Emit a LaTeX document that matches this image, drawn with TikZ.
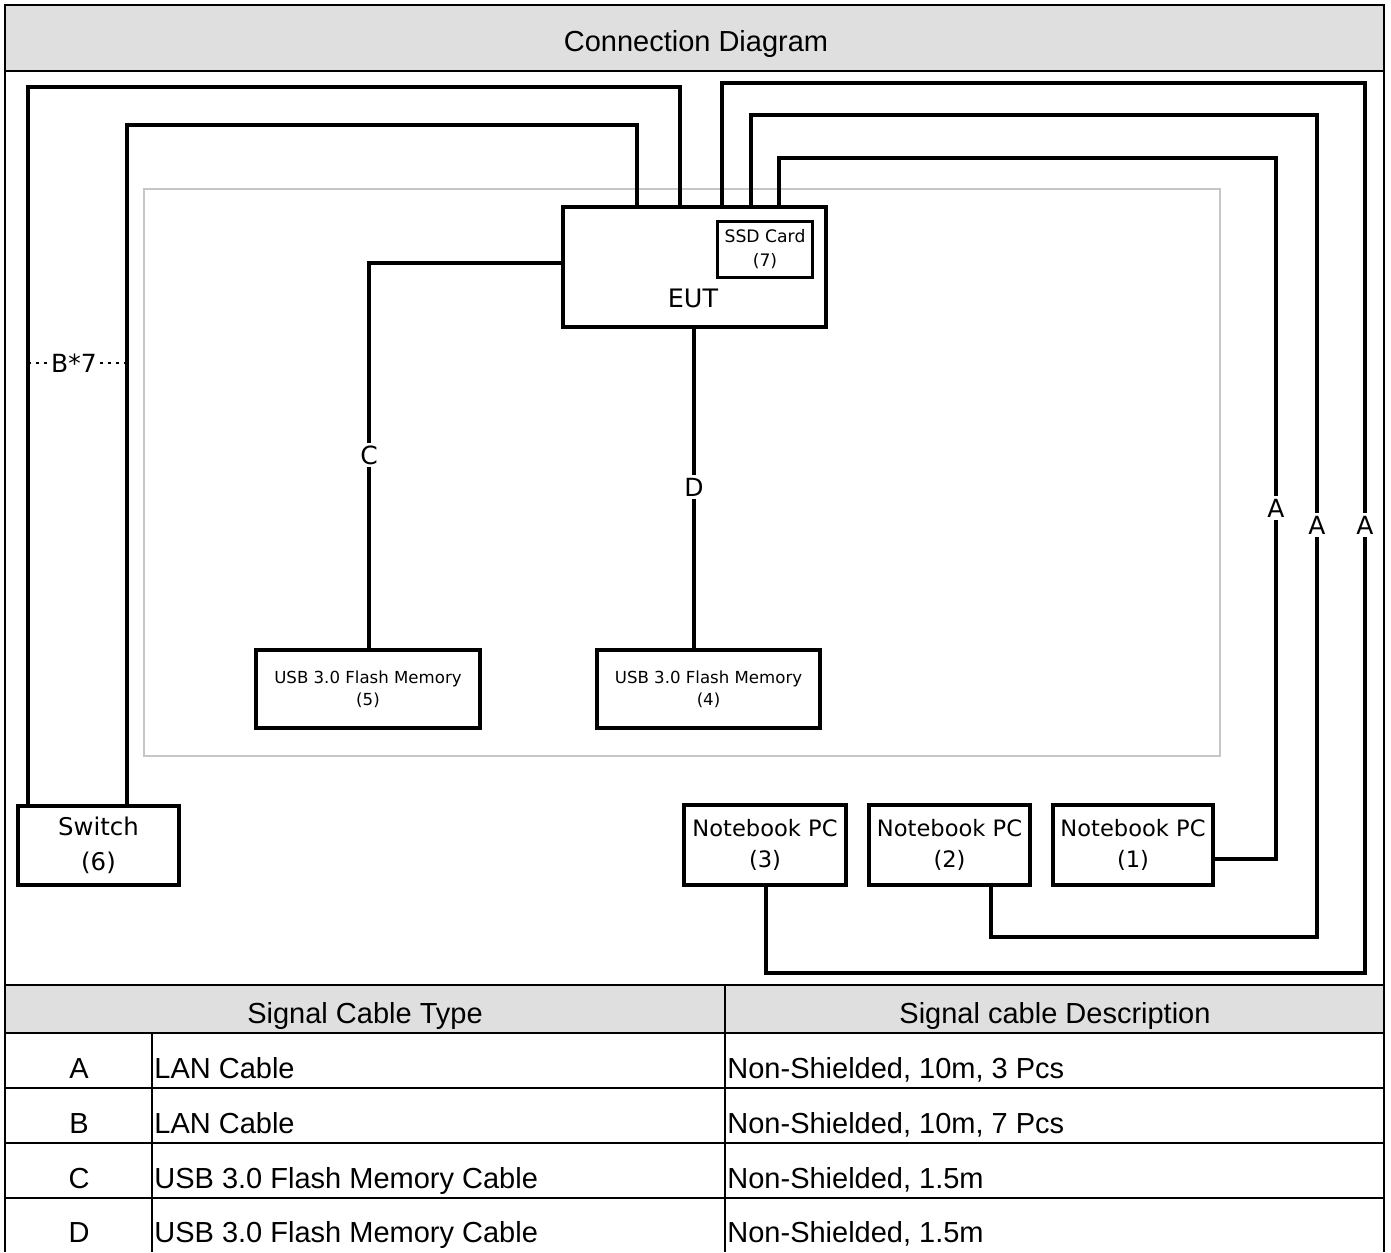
\documentclass[tikz,border=0pt]{standalone}
\usepackage{fontspec}
\setmainfont{Liberation Sans}
\newfontfamily\dejavu{DejaVu Sans}
\begin{document}
\begin{tikzpicture}[x=0.5pt,y=-0.5pt,
  frameline/.style={line width=1.35pt},
  cable/.style={line width=1.6pt},
  devbox/.style={draw,line width=1.6pt,inner sep=0pt,align=center},
  cablelbl/.style={fill=white,inner sep=1.5pt,font=\dejavu\fontsize{12.5}{15}\selectfont},
  tabtext/.style={font=\fontsize{14.5}{17}\selectfont,inner sep=0pt,anchor=base},
  tableft/.style={tabtext,anchor=base west}]
\useasboundingbox (0,0) rectangle (1391,1252);
% ---------- frame and table ----------
\fill[gray!25] (5,5) rectangle (1384,71);
\fill[gray!25] (5,985) rectangle (1384,1033);
\draw[frameline] (5,1252) -- (5,5) -- (1384,5) -- (1384,1252);
\draw[frameline] (5,71) -- (1384,71);
\draw[frameline] (5,985) -- (1384,985);
\foreach \yy in {1033,1088,1143,1198} \draw[frameline] (5,\yy) -- (1384,\yy);
\draw[frameline] (725,985) -- (725,1252);
\draw[frameline] (152,1033) -- (152,1252);
\node[tabtext] (title) at (696,52) {Connection Diagram};
\node[tabtext] (h1) at (365,1023) {Signal Cable Type};
\node[tabtext] (h2) at (1055,1023) {Signal cable Description};
\node[tabtext] (ra) at (79,1078) {A};
\node[tabtext] (rb) at (79,1133) {B};
\node[tabtext] (rc) at (79,1188) {C};
\node[tabtext] (rd) at (79,1242) {D};
\node[tableft] (ta) at (154,1078) {LAN Cable};
\node[tableft] (tb) at (154,1133) {LAN Cable};
\node[tableft] (tc) at (154,1188) {USB 3.0 Flash Memory Cable};
\node[tableft] (td) at (154,1242) {USB 3.0 Flash Memory Cable};
\node[tableft] (da) at (727,1078) {Non-Shielded, 10m, 3 Pcs};
\node[tableft] (db) at (727,1133) {Non-Shielded, 10m, 7 Pcs};
\node[tableft] (dc) at (727,1188) {Non-Shielded, 1.5m};
\node[tableft] (dd) at (727,1242) {Non-Shielded, 1.5m};
% ---------- test area ----------
\draw[gray!45,line width=0.6pt] (144,189) rectangle (1220,756);
% ---------- devices ----------
\node[devbox,minimum width=131.5pt,minimum height=60pt] (eut) at (694.5,267) {};
\node[font=\dejavu\fontsize{12.7}{15}\selectfont,inner sep=0pt] (eutlbl) at (693,298) {EUT};
\node[devbox,minimum width=47.5pt,minimum height=28pt,font=\dejavu\fontsize{8.6}{12}\selectfont] (ssd) at (765,249.5) {SSD Card\\(7)};
\node[devbox,minimum width=80.5pt,minimum height=39.5pt,font=\dejavu\fontsize{12.2}{17.5}\selectfont] (sw) at (98.5,845.5) {Switch\\(6)};
\node[devbox,minimum width=112pt,minimum height=39pt,font=\dejavu\fontsize{8.3}{11}\selectfont] (usb5) at (368,689) {USB 3.0 Flash Memory\\(5)};
\node[devbox,minimum width=111.5pt,minimum height=39pt,font=\dejavu\fontsize{8.3}{11}\selectfont] (usb4) at (708.5,689) {USB 3.0 Flash Memory\\(4)};
\node[devbox,minimum width=81pt,minimum height=40pt,font=\dejavu\fontsize{11.3}{15.5}\selectfont] (nb3) at (765,845) {Notebook PC\\(3)};
\node[devbox,minimum width=80.5pt,minimum height=40pt,font=\dejavu\fontsize{11.3}{15.5}\selectfont] (nb2) at (949.5,845) {Notebook PC\\(2)};
\node[devbox,minimum width=80pt,minimum height=40pt,font=\dejavu\fontsize{11.3}{15.5}\selectfont] (nb1) at (1133,845) {Notebook PC\\(1)};
% ---------- cables ----------
\draw[cable] (eut.north -| 680,0) -- (680,87) -- (28,87) -- (sw.north -| 28,0);
\draw[cable] (eut.north -| 637,0) -- (637,125) -- (127,125) -- (sw.north -| 127,0);
\draw[cable] (eut.north -| 722,0) -- (722,83) -- (1365,83) -- (1365,973) -- (766,973) -- (nb3.south -| 766,0);
\draw[cable] (eut.north -| 751,0) -- (751,115) -- (1317,115) -- (1317,937) -- (991,937) -- (nb2.south -| 991,0);
\draw[cable] (eut.north -| 779,0) -- (779,158) -- (1276,158) -- (1276,859) -- (nb1.east |- 0,859);
\draw[cable] (eut.west |- 0,263) -- (369,263) -- (usb5.north -| 369,0);
\draw[cable] (eut.south -| 694,0) -- (usb4.north -| 694,0);
% ---------- cable labels ----------
\draw[line width=1.4pt,dash pattern=on 1.4pt off 2.6pt] (28,363) -- (127,363);
\node[cablelbl] (lb) at (74,363) {B*7};
\node[cablelbl] (lc) at (369,455) {C};
\node[cablelbl] (ld) at (694,487) {D};
\node[cablelbl] (la1) at (1276,508) {A};
\node[cablelbl] (la2) at (1317,525) {A};
\node[cablelbl] (la3) at (1365,525) {A};
\end{tikzpicture}
\end{document}
